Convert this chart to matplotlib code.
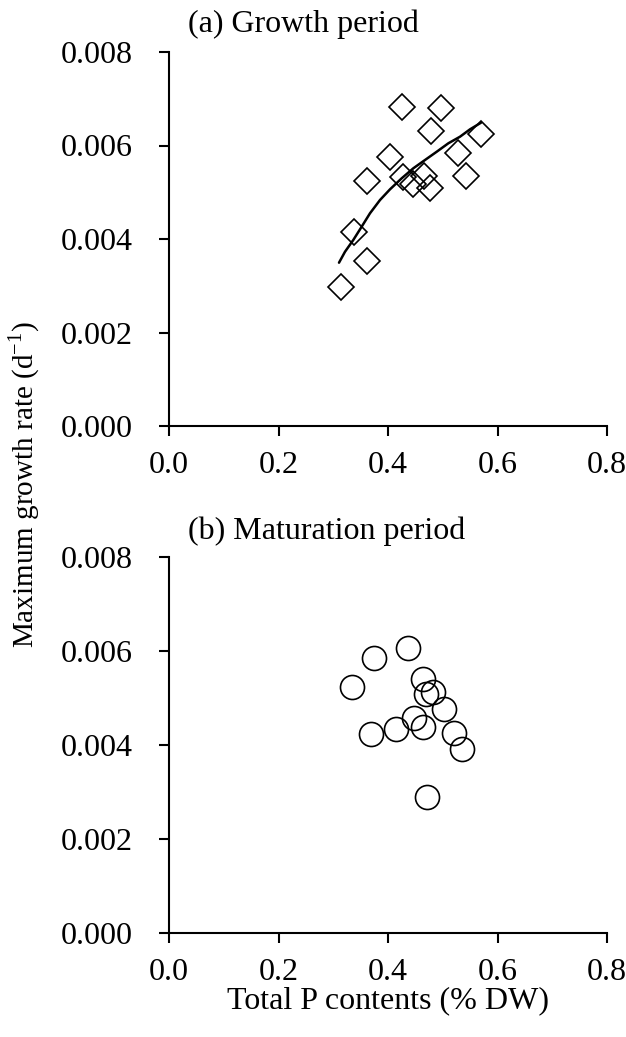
import numpy as np
import matplotlib
matplotlib.use("Agg")
import matplotlib.pyplot as plt

# ---- data ----
# (a) growth period: total P (% DW) vs max growth rate (d^-1)
growth_p = [0.426, 0.496, 0.478, 0.569, 0.528, 0.404, 0.361, 0.427,
            0.466, 0.445, 0.477, 0.542, 0.337, 0.361, 0.315]
growth_rate = [0.00683, 0.00680, 0.00631, 0.00624, 0.00583, 0.00576, 0.00523, 0.00533,
               0.00535, 0.00518, 0.00509, 0.00535, 0.00416, 0.00353, 0.00298]

# trend curve
trend_p = [0.3105, 0.3215, 0.3366, 0.3519, 0.3671, 0.3854, 0.4037, 0.4250,
           0.4462, 0.4676, 0.4890, 0.5102, 0.5315, 0.5498, 0.5699]
trend_rate = [0.003493, 0.003728, 0.003979, 0.004263, 0.004550, 0.004834, 0.005063, 0.005298,
              0.005512, 0.005690, 0.005867, 0.006047, 0.006188, 0.006346, 0.006488]

# (b) maturation period
mat_p = [0.4365, 0.3743, 0.3348, 0.4645, 0.4822, 0.4694, 0.5023,
         0.4480, 0.4634, 0.4141, 0.3689, 0.5200, 0.5346, 0.4707]
mat_rate = [0.00607, 0.00586, 0.00524, 0.00540, 0.00513, 0.00509, 0.00477,
            0.00457, 0.00439, 0.00435, 0.00423, 0.00426, 0.00391, 0.00290]

x_ticks = [0.0, 0.2, 0.4, 0.6, 0.8]
y_ticks = [0.000, 0.002, 0.004, 0.006, 0.008]

plt.rcParams.update({
    "font.family": "Liberation Serif",
    "font.size": 23,
})

W, H = 626, 1037
fig = plt.figure(figsize=(W / 100, H / 100), dpi=100)

left = 169 / W
width = (607 - 169) / W
ax_a = fig.add_axes([left, 1 - 426 / H, width, (426 - 52) / H])
ax_b = fig.add_axes([left, 1 - 933 / H, width, (933 - 557) / H])


def style_axes(ax):
    ax.set_xlim(0, 0.8)
    ax.set_ylim(0, 0.008)
    ax.set_xticks(x_ticks)
    ax.set_yticks(y_ticks)
    ax.set_xticklabels([f"{v:.1f}" for v in x_ticks])
    ax.set_yticklabels([f"{v:.3f}" for v in y_ticks])
    for side in ["top", "right"]:
        ax.spines[side].set_visible(False)
    for side in ["left", "bottom"]:
        ax.spines[side].set_linewidth(1.5)
    ax.tick_params(direction="out", length=7, width=1.5, labelsize=23)
    ax.tick_params(axis="y", pad=19)
    ax.tick_params(axis="x", pad=11)
    ax.patch.set_alpha(0)


ax_a.plot(trend_p, trend_rate, color="black", linewidth=1.8,
          solid_joinstyle="round", solid_capstyle="round", zorder=2)
ax_a.plot(growth_p, growth_rate, linestyle="none", marker="D", markersize=13.5,
          markerfacecolor="none", markeredgecolor="black", markeredgewidth=1.2, zorder=3)
style_axes(ax_a)

ax_b.plot(mat_p, mat_rate, linestyle="none", marker="o", markersize=17.3,
          markerfacecolor="none", markeredgecolor="black", markeredgewidth=1.2, zorder=3)
style_axes(ax_b)

fig.text(188 / W, 1 - 24 / H, "(a) Growth period", ha="left", va="center", fontsize=23)
fig.text(188 / W, 1 - 531 / H, "(b) Maturation period", ha="left", va="center", fontsize=23)

fig.text(24 / W, 1 - 485 / H, "Maximum growth rate (d$^{\\mathregular{-1}}$)",
         rotation=90, ha="center", va="center", fontsize=21)
fig.text(388 / W, 1 - 1001 / H, "Total P contents (% DW)", ha="center", va="center", fontsize=23)

fig.savefig("out.png", dpi=100)
